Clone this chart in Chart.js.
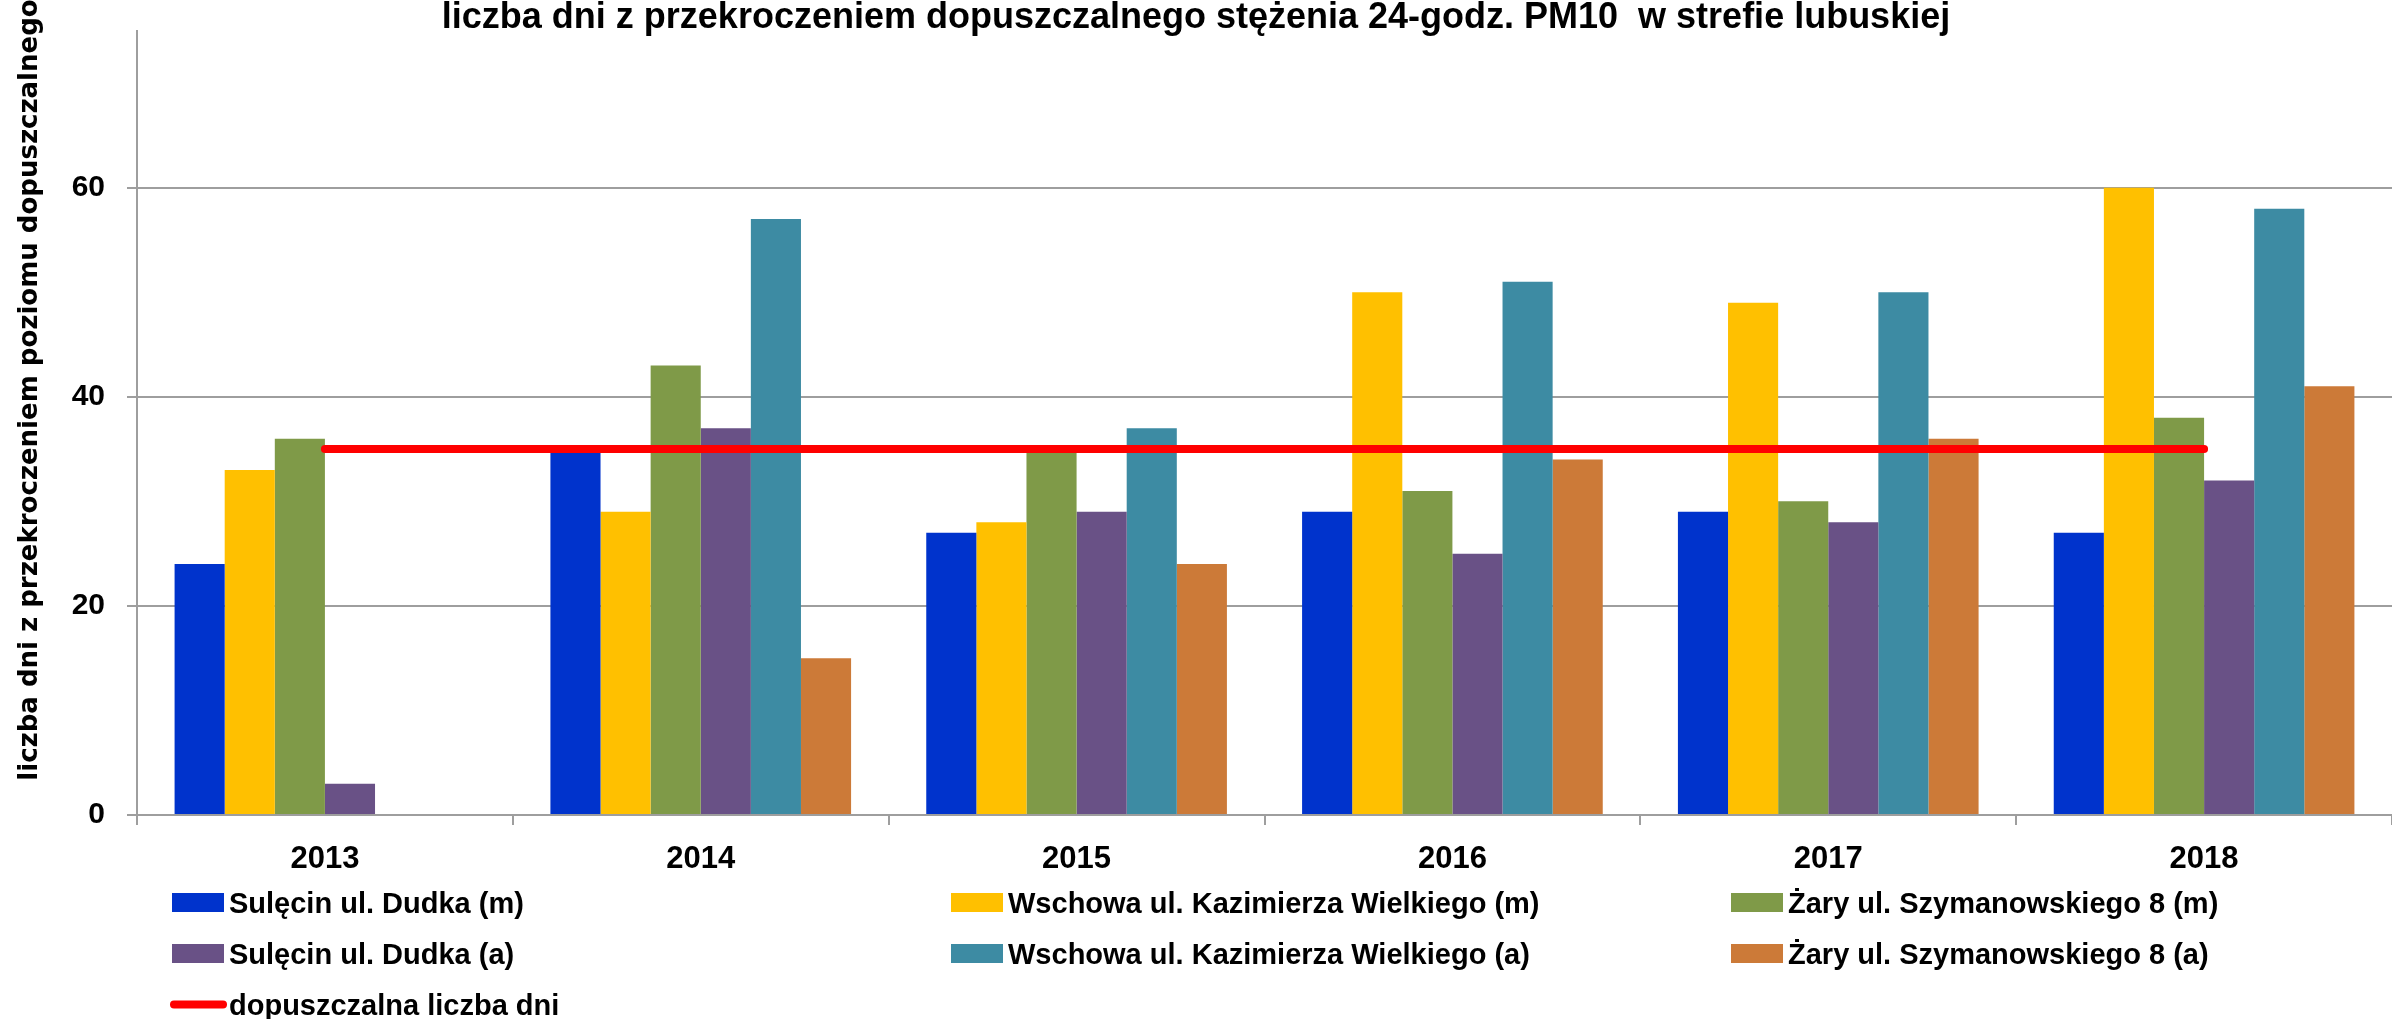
<!DOCTYPE html>
<html>
<head>
<meta charset="utf-8">
<script src="https://cdn.jsdelivr.net/npm/chart.js@4"></script>
<style>
  html, body { margin: 0; padding: 0; background: #fff; }
  canvas { display: block; }
</style>
</head>
<body>
<canvas id="chart" width="2392" height="1019"></canvas>
<script>
const years = ['2013', '2014', '2015', '2016', '2017', '2018'];
const sulecinM = [24, 35, 27, 29, 29, 27];
const wschowaM = [33, 29, 28, 50, 49, 60];
const zaryM = [36, 43, 35, 31, 30, 38];
const sulecinA = [3, 37, 29, 25, 28, 32];
const wschowaA = [null, 57, 37, 51, 50, 58];
const zaryA = [null, 15, 24, 34, 36, 41];
const limitDays = [35, 35, 35, 35, 35, 35];
const yTicks = [0, 20, 40, 60];

const mainFont = "'Liberation Sans', Arial, sans-serif";
const axisGray = '#9e9e9e';

// legend in three columns + rotated y title, drawn by hand
const gridLegend = {
    id: 'gridLegend',
    afterDraw(chart) {
        const ctx = chart.ctx;
        const cols = [172, 951, 1731];
        const rowTop = 902.5;
        const rowStep = 51;
        ctx.save();
        ctx.font = 'bold 29px ' + mainFont;
        ctx.textBaseline = 'alphabetic';
        chart.data.datasets.forEach((ds, i) => {
            const x = cols[i % 3];
            const y = rowTop + rowStep * Math.floor(i / 3);
            if (ds.type === 'line') {
                ctx.strokeStyle = ds.borderColor;
                ctx.lineWidth = 8;
                ctx.lineCap = 'round';
                ctx.beginPath();
                ctx.moveTo(x + 2, y);
                ctx.lineTo(x + 51, y);
                ctx.stroke();
            } else {
                ctx.fillStyle = ds.backgroundColor;
                ctx.fillRect(x, y - 9.5, 52, 19);
            }
            ctx.fillStyle = '#000';
            ctx.fillText(ds.label, x + 57, y + 10);
        });

        ctx.translate(30, 390);
        ctx.rotate(-Math.PI / 2);
        ctx.font = "bold 26px 'DejaVu Sans', sans-serif";
        ctx.textAlign = 'center';
        ctx.textBaseline = 'middle';
        ctx.fillText('liczba dni z przekroczeniem poziomu dopuszczalnego', 0, 0);
        ctx.restore();
    }
};

const barDefaults = { categoryPercentage: 0.8, barPercentage: 1.0, borderWidth: 0, order: 1 };

new Chart(document.getElementById('chart').getContext('2d'), {
    type: 'bar',
    data: {
        labels: years,
        datasets: [
            { ...barDefaults, label: 'Sulęcin ul. Dudka (m)', data: sulecinM, backgroundColor: '#0033cc' },
            { ...barDefaults, label: 'Wschowa ul. Kazimierza Wielkiego (m)', data: wschowaM, backgroundColor: '#ffc000' },
            { ...barDefaults, label: 'Żary ul. Szymanowskiego 8 (m)', data: zaryM, backgroundColor: '#7f9a48' },
            { ...barDefaults, label: 'Sulęcin ul. Dudka (a)', data: sulecinA, backgroundColor: '#695186' },
            { ...barDefaults, label: 'Wschowa ul. Kazimierza Wielkiego (a)', data: wschowaA, backgroundColor: '#3d8ba3' },
            { ...barDefaults, label: 'Żary ul. Szymanowskiego 8 (a)', data: zaryA, backgroundColor: '#cc7a38' },
            {
                type: 'line',
                label: 'dopuszczalna liczba dni',
                data: limitDays,
                borderColor: '#ff0000',
                backgroundColor: '#ff0000',
                borderWidth: 8,
                borderCapStyle: 'round',
                pointRadius: 0,
                fill: false,
                order: 0
            }
        ]
    },
    options: {
        responsive: false,
        animation: false,
        devicePixelRatio: 1,
        layout: { padding: 0 },
        plugins: {
            legend: { display: false },
            tooltip: { enabled: false },
            title: {
                display: true,
                text: 'liczba dni z przekroczeniem dopuszczalnego stężenia 24-godz. PM10  w strefie lubuskiej',
                color: '#000',
                font: { family: mainFont, size: 36, weight: 'bold', lineHeight: 0.72 },
                padding: { top: 5, bottom: 0 }
            }
        },
        scales: {
            x: {
                grid: { drawOnChartArea: false, tickLength: 10, color: axisGray, lineWidth: 2, offset: true },
                border: { color: axisGray, width: 2 },
                ticks: { color: '#000', font: { family: mainFont, size: 31, weight: 'bold' }, padding: 16, maxRotation: 0 },
                afterFit: (scale) => { scale.height = 204; }
            },
            y: {
                min: 0,
                max: 75,
                grid: { color: axisGray, lineWidth: 2, tickLength: 10 },
                border: { color: axisGray, width: 2 },
                ticks: { color: '#000', font: { family: mainFont, size: 30, weight: 'bold' }, padding: 22 },
                afterBuildTicks: (scale) => { scale.ticks = yTicks.map(v => ({ value: v })); },
                afterFit: (scale) => {
                    scale.width = 137;
                    scale.paddingTop = 0;
                    scale.paddingBottom = 0;
                }
            }
        }
    },
    plugins: [gridLegend]
});
</script>
</body>
</html>
